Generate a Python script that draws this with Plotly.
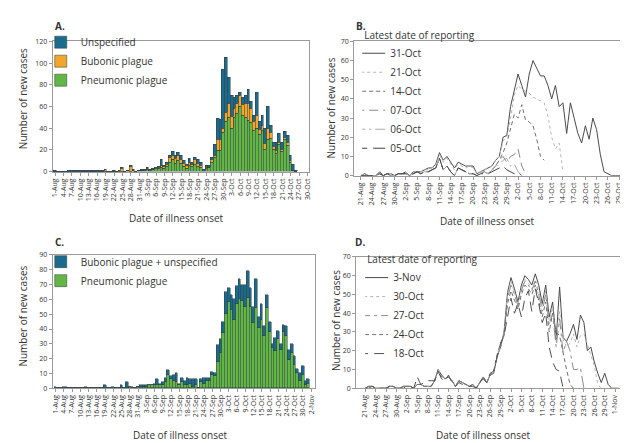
import pandas as pd
import plotly.graph_objects as go

# ---------------- data ----------------
# Panel A: daily cases 1-Aug .. 26-Oct (version 1)
a_start = "2017-08-01"
a_pneumonic = [0,0,0,0,0,0,0,0,0,0, 0,0,0,0,0,0,0,0,0,0, 0,0,0,0,0,0,1,0,1,0,
               1,1,1,2,1,2,3,3,4,3, 5,9,11,8,10,8,5,3,6,5, 7,5,4,1,3,4,9,13,20,20,
               36,46,50,40,50,54,60,52,50,47, 45,38,40,34,38,21,30,31,21,17, 25,19,30,24,9,1,0]
a_bubonic = [0,0,0,0,0,0,0,0,0,0, 0,0,0,0,0,0,0,0,2,0, 0,0,0,1,3,0,0,5,1,0,
             0,0,1,1,1,0,1,1,2,2, 2,4,4,4,5,3,3,3,3,2, 4,3,2,1,1,0,2,2,10,10,
             4,9,13,11,8,9,10,10,13,16, 13,8,12,5,5,5,10,5,2,3, 2,2,2,3,1,0,0]
a_unspecified = [1,0,0,0,0,1,1,1,1,1, 1,1,1,1,1,1,1,1,0,0, 0,1,0,0,1,0,0,1,0,0,
                 0,1,0,1,0,1,0,1,5,1, 2,2,4,3,3,4,2,1,3,2, 2,3,3,0,2,2,2,10,19,18,
                 54,50,24,19,10,7,3,6,7,13, 7,6,21,7,9,14,20,7,4,7, 8,6,5,6,5,6,1]

# Panel C: daily cases 1-Aug .. 1-Nov (version 2)
c_start = "2017-08-01"
c_pneumonic = [0,0,0,0,0,0,0,0,0,0, 0,0,0,0,0,0,0,0,0,0, 0,0,0,0,0,0,0,1,0,0,
               1,1,1,1,2,2,2,2,2,2, 4,9,6,5,4,2,4,2,2,3, 1,2,0,4,3,5,5,9,8,18,
               24,37,50,58,53,46,57,60,59,55, 61,55,44,54,41,46,35,54,38,27,
               25,33,26,38,35,19,24,16,10,5, 9,2,3]
c_bubonic_unspec = [1,0,0,1,1,0,0,0,0,0, 0,1,0,0,0,0,0,0,2,0, 0,1,0,0,2,0,4,0,1,0,
                    0,1,1,1,0,0,1,4,1,2, 3,3,2,4,6,1,3,3,5,3, 5,4,0,2,4,2,2,2,2,11,
                    9,8,15,10,10,14,12,14,11,15, 18,13,11,20,7,11,7,9,7,3,
                    9,6,4,5,7,7,6,6,3,5, 6,3,3]

# Panel B: epidemic curves by latest date of reporting (start 21-Aug)
b_start = "2017-08-21"
b_31oct = [0,1,0,0,0,2,0,1,1,0,1,
           1,2,0,2,2,2,3,4,4,6, 12,8,10,7,4,7,6,5,5,5, 1,2,3,4,5,8,10,20,21,36,
           45,53,47,41,53,60,56,52,52,47, 40,47,36,38,22,38,30,22,17,26, 19,30,24,11,2,1,0,0,0,0]
b_21oct = [0,1,0,0,0,1,0,1,1,0,1,
           1,2,0,2,2,2,3,3,4,5, 11,7,9,6,3,6,5,4,5,4, 1,2,3,4,5,8,10,18,20,30,
           42,47,45,44,43,41,40,39,38,31, 20,14,17,2]
b_14oct = [0,0,0,0,0,1,0,1,0,0,1,
           1,1,0,1,2,1,2,2,3,4, 9,3,5,2,0,4,3,2,1,1, 0,1,2,1,3,5,8,12,17,25,
           32,30,37,29,28,26,19,10,8]
b_07oct = [0,0,0,0,0,1,0,1,0,0,1,
           1,1,0,1,2,1,2,2,3,4, 9,3,5,2,0,4,3,2,1,1, 0,1,2,1,3,5,8,10,7,10,
           11,14,5,1]
b_06oct = [0,0,0,0,0,1,0,1,0,0,1,
           1,1,0,1,2,1,2,2,3,4, 9,3,5,2,0,4,3,2,1,1, 0,1,2,1,3,4,6,8,9,5,
           6,2,0]
b_05oct = [0,0,0,0,0,1,0,1,0,0,1,
           1,1,0,1,2,1,2,2,3,4, 9,3,5,2,0,4,3,2,1,1, 0,1,1,1,2,3,4,5,3,2,
           1,2,0]

# Panel D: epidemic curves by latest date of reporting (start 21-Aug)
d_start = "2017-08-21"
d_03nov = [0,1,1,0,0,0,0,1,1,0,0,
           1,1,1,0,2,2,1,1,1,4, 10,7,5,6,4,1,4,3,2,1, 2,0,3,6,3,7,8,17,22,30,
           51,59,53,46,55,60,58,55,61,55, 45,55,38,46,26,54,27,25,29,34,
           26,39,35,20,22,14,8,3,8,2, 0, 0,0]
d_30oct = [0,1,1,0,0,0,0,1,1,0,0,
           1,1,1,0,2,2,1,1,1,4, 10,7,5,6,4,1,4,3,2,1, 2,0,3,6,3,7,8,17,22,30,
           50,57,51,45,53,58,56,53,58,52, 43,52,36,43,25,41,26,22,24,29,
           22,28,29,23,18,12,2,0]
d_27oct = [0,1,1,0,0,0,0,1,1,0,0,
           1,1,1,0,2,2,1,1,1,4, 9,7,5,6,4,1,4,3,2,1, 2,0,3,6,3,7,8,17,22,29,
           48,55,50,44,52,57,55,52,57,50, 41,50,34,40,22,37,19,25,20,10,
           10,11,0]
d_24oct = [0,1,1,0,0,0,0,1,1,0,0,
           1,1,1,0,2,2,1,1,1,4, 9,6,5,6,4,1,4,3,2,1, 2,0,3,6,3,7,9,18,24,28,
           45,52,47,42,50,55,53,50,55,47, 38,46,30,40,30,28,18,10,2,0]
d_18oct = [0,0,1,0,0,0,0,1,0,0,0,
           0,1,1,0,6,2,3,4,4,4, 9,5,4,7,3,1,3,2,2,1, 1,0,3,5,3,8,9,17,24,28,
           38,48,40,45,38,48,52,41,53,45, 35,40,22,14,10,9,0]

# Tick labels
ac_ticks_a = ["1-Aug","4-Aug","7-Aug","10-Aug","13-Aug","16-Aug","19-Aug","22-Aug","25-Aug","28-Aug",
              "31-Aug","3-Sep","6-Sep","9-Sep","12-Sep","15-Sep","18-Sep","21-Sep","24-Sep","27-Sep",
              "30-Sep","3-Oct","6-Oct","9-Oct","12-Oct","15-Oct","18-Oct","21-Oct","24-Oct","27-Oct","30-Oct"]
ac_ticks_c = ac_ticks_a + ["2-Nov"]
bd_ticks_b = ["21-Aug","24-Aug","27-Aug","30-Aug","2-Sep","5-Sep","8-Sep","11-Sep","14-Sep","17-Sep",
              "20-Sep","23-Sep","26-Sep","29-Sep","2-Oct","5-Oct","8-Oct","11-Oct","14-Oct","17-Oct",
              "20-Oct","23-Oct","26-Oct","29-Oct"]
bd_ticks_d = bd_ticks_b + ["1-Nov"]

# ---------------- helpers ----------------
W, H = 628, 443
FONT = "Open Sans"
TXT = "#333333"
BLUE, ORANGE, GREEN = "#1d6b8c", "#f2a62c", "#62b646"


def dates(start, values):
    return pd.date_range(start=start, periods=len(values), freq="D")


def tickdates(labels):
    return [pd.to_datetime(l + "-2017", format="%d-%b-%Y") for l in labels]


def px_x(a, b):
    return [a / W, b / W]


def px_y(top, bottom):
    return [1 - bottom / H, 1 - top / H]


fig = go.Figure()

# Panel A bars
for name, vals, col in [("Pneumonic plague", a_pneumonic, GREEN),
                        ("Bubonic plague", a_bubonic, ORANGE),
                        ("Unspecified", a_unspecified, BLUE)]:
    fig.add_trace(go.Bar(x=dates(a_start, vals), y=vals, name=name, marker_color=col,
                         marker_line=dict(color="#2f3a3f", width=0.5),
                         xaxis="x", yaxis="y", legend="legend"))

# Panel C bars
for name, vals, col in [("Pneumonic plague", c_pneumonic, GREEN),
                        ("Bubonic plague + unspecified", c_bubonic_unspec, BLUE)]:
    fig.add_trace(go.Bar(x=dates(c_start, vals), y=vals, name=name, marker_color=col,
                         marker_line=dict(color="#2f3a3f", width=0.5),
                         xaxis="x3", yaxis="y3", legend="legend3"))

# Panel B lines
b_series = [("31-Oct", b_31oct, "#4a4a4a", "solid"),
            ("21-Oct", b_21oct, "#b5b5b5", "dot"),
            ("14-Oct", b_14oct, "#707070", "4px,3px"),
            ("07-Oct", b_07oct, "#8a8a8a", "9px,5px"),
            ("06-Oct", b_06oct, "#a8a8a8", "10px,4px,2px,4px"),
            ("05-Oct", b_05oct, "#404040", "12px,6px")]
for name, vals, col, dash in b_series:
    fig.add_trace(go.Scatter(x=dates(b_start, vals), y=vals, name=name, mode="lines",
                             line=dict(color=col, width=1, dash=dash),
                             xaxis="x2", yaxis="y2", legend="legend2"))

# Panel D lines
d_series = [("3-Nov", d_03nov, "#4a4a4a", "solid"),
            ("30-Oct", d_30oct, "#b5b5b5", "dot"),
            ("27-Oct", d_27oct, "#8a8a8a", "12px,4px,3px,4px"),
            ("24-Oct", d_24oct, "#707070", "4px,3px"),
            ("18-Oct", d_18oct, "#505050", "10px,6px")]
for name, vals, col, dash in d_series:
    fig.add_trace(go.Scatter(x=dates(d_start, vals), y=vals, name=name, mode="lines",
                             line=dict(color=col, width=1, dash=dash),
                             xaxis="x4", yaxis="y4", legend="legend4"))

axis_common = dict(showline=True, mirror=True, linecolor="#9a9a9a", linewidth=1,
                   showgrid=False, zeroline=False, ticks="outside", tickcolor="#9a9a9a",
                   ticklen=3, tickfont=dict(size=7, color=TXT, family=FONT))


def xaxis(domain, anchor, labels, rng):
    return dict(axis_common, domain=domain, anchor=anchor, type="date", range=rng,
                tickmode="array", tickvals=tickdates(labels), ticktext=labels, tickangle=-90)


def yaxis(domain, anchor, top, dtick):
    return dict(axis_common, domain=domain, anchor=anchor, range=[0, top],
                tickmode="linear", tick0=0, dtick=dtick)


legend_common = dict(bgcolor="rgba(0,0,0,0)", borderwidth=0, xanchor="left", yanchor="top",
                     font=dict(size=10, color=TXT, family=FONT), itemwidth=30, tracegroupgap=0)
title_font = dict(size=10, color=TXT, family=FONT)

fig.update_layout(
    width=W, height=H, autosize=False,
    margin=dict(l=0, r=0, t=0, b=0, pad=0),
    paper_bgcolor="white", plot_bgcolor="white",
    font=dict(family=FONT, color=TXT),
    barmode="stack", bargap=0,
    showlegend=True,
    xaxis=xaxis(px_x(43, 301), "y", ac_ticks_a, ["2017-07-31 03:00", "2017-10-30 09:00"]),
    yaxis=yaxis(px_y(29, 162), "x", 120, 20),
    xaxis2=xaxis(px_x(347, 618), "y2", bd_ticks_b, ["2017-08-19 05:00", "2017-10-30 02:00"]),
    yaxis2=yaxis(px_y(29, 166), "x2", 70, 10),
    xaxis3=xaxis(px_x(43, 307), "y3", ac_ticks_c, ["2017-07-30 22:00", "2017-11-03 05:00"]),
    yaxis3=yaxis(px_y(247, 383), "x3", 90, 10),
    xaxis4=xaxis(px_x(349, 617), "y4", bd_ticks_d, ["2017-08-18 10:00", "2017-11-03 00:00"]),
    yaxis4=yaxis(px_y(249, 383), "x4", 70, 10),
    legend=dict(legend_common, x=31 / W, y=1 - 15 / H, traceorder="reversed"),
    legend3=dict(legend_common, x=31 / W, y=1 - 239 / H, traceorder="reversed"),
    legend2=dict(legend_common, x=355 / W, y=1 - 13 / H, traceorder="normal", indentation=-12,
                 title=dict(text="Latest date of reporting", font=title_font)),
    legend4=dict(legend_common, x=358 / W, y=1 - 242 / H, traceorder="normal", indentation=-12,
                 title=dict(text="Latest date of reporting", font=title_font)),
)

annots = []
# panel letters
for txt, x, y in [("A.", 43, 13), ("B.", 347, 13), ("C.", 43, 234), ("D.", 346, 234)]:
    annots.append(dict(text="<b>" + txt + "</b>", x=x / W, y=1 - y / H, xref="paper", yref="paper",
                       xanchor="left", yanchor="middle", showarrow=False,
                       font=dict(size=10, color=TXT, family=FONT)))
# y-axis titles
for x, y in [(13, 87), (324, 97), (13, 309), (328, 314)]:
    annots.append(dict(text="Number of new cases", x=x / W, y=1 - y / H, xref="paper", yref="paper",
                       xanchor="center", yanchor="middle", textangle=-90, showarrow=False,
                       font=dict(size=10, color=TXT, family=FONT)))
# x-axis titles
for x, y in [(168, 209), (481, 212), (172, 431), (477, 431)]:
    annots.append(dict(text="Date of illness onset", x=x / W, y=1 - y / H, xref="paper", yref="paper",
                       xanchor="center", yanchor="middle", showarrow=False,
                       font=dict(size=10, color=TXT, family=FONT)))
fig.update_layout(annotations=annots)

fig.write_html("out.html")
